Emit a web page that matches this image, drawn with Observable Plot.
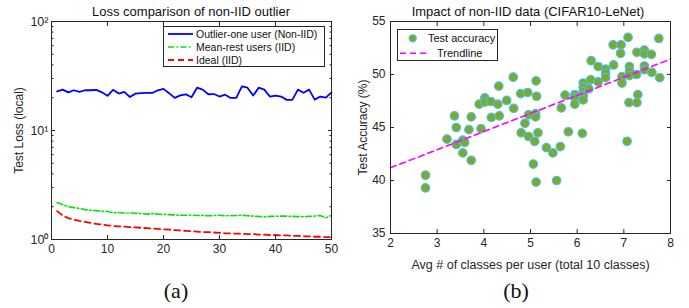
<!DOCTYPE html>
<html><head><meta charset="utf-8">
<script src="https://cdn.jsdelivr.net/npm/d3@7"></script>
<script src="https://cdn.jsdelivr.net/npm/@observablehq/plot@0.6"></script>
<style>
body{margin:0;background:#fff;}
#wrap{position:relative;width:689px;height:308px;overflow:hidden;font-family:"Liberation Sans",Arial,sans-serif;color:#262626;}
.abs{position:absolute;white-space:nowrap;line-height:1;}
.title{font-size:13px;color:#111;transform:translate(-50%,-50%);}
.cap{font-family:"Liberation Serif","Times New Roman",serif;font-size:22px;color:#111;transform:translate(-50%,-50%);}
.chart{position:absolute;top:0;}
</style></head>
<body><div id="wrap"></div>
<script>
// ---------- Data: left chart (a) ----------
const epochs = [1,2,3,4,5,6,7,8,9,10,11,12,13,14,15,16,17,18,19,20,21,22,23,24,25,26,27,28,29,30,31,32,33,34,35,36,37,38,39,40,41,42,43,44,45,46,47,48,49,50];
const outlierLoss = [22.9,23.7,22.4,23.4,22.6,23.4,23.4,23.6,22.4,20.8,23.6,21.8,22.6,20.3,21.8,22.0,22.1,22.1,23.4,24.1,22.0,19.9,21.0,21.5,20.2,24.7,23.7,21.5,21.6,20.5,21.3,19.9,19.9,25.4,24.7,20.9,24.7,23.7,20.5,20.9,20.5,19.1,19.1,23.7,22.2,23.7,19.2,20.5,20.0,22.4];
const meanRestLoss = [2.18,2.08,2.00,1.96,1.93,1.88,1.85,1.84,1.82,1.81,1.76,1.77,1.75,1.75,1.74,1.73,1.71,1.73,1.71,1.70,1.69,1.68,1.67,1.67,1.67,1.66,1.66,1.65,1.66,1.67,1.65,1.65,1.66,1.67,1.65,1.64,1.63,1.61,1.63,1.63,1.64,1.64,1.63,1.62,1.62,1.63,1.64,1.66,1.58,1.67];
const idealLoss = [1.82,1.66,1.57,1.52,1.48,1.45,1.42,1.39,1.37,1.35,1.33,1.32,1.31,1.30,1.29,1.28,1.27,1.26,1.25,1.24,1.23,1.22,1.21,1.20,1.19,1.18,1.17,1.17,1.16,1.15,1.14,1.14,1.13,1.13,1.12,1.12,1.11,1.11,1.10,1.10,1.09,1.09,1.08,1.08,1.07,1.07,1.06,1.06,1.05,1.05];
const leftSeries = ["Outlier-one user (Non-IID)", "Mean-rest users (IID)", "Ideal (IID)"];
const leftXTicks = [0,10,20,30,40,50];
const leftYTicks = [1,10,100];
const leftYMinor = [2,3,4,5,6,7,8,9,20,30,40,50,60,70,80,90];

// ---------- Data: right chart (b) ----------
const avgClasses = [2.75,2.75,3.21,3.37,3.41,3.41,3.55,3.59,3.55,3.68,3.73,3.73,3.94,3.90,4.02,4.02,4.15,4.16,4.30,4.32,4.33,4.49,4.63,4.64,4.79,4.80,4.88,4.94,4.96,4.96,5.09,5.11,5.11,5.12,5.13,5.16,5.06,5.12,5.34,5.48,5.56,5.64,5.66,5.74,5.81,5.95,5.95,5.95,6.11,6.13,6.13,6.13,6.13,6.13,6.25,6.29,6.30,6.45,6.45,6.61,6.61,6.61,6.77,6.78,6.94,6.93,6.96,6.96,7.07,7.09,7.11,7.12,7.12,7.12,7.27,7.28,7.28,7.30,7.44,7.44,7.44,7.44,7.59,7.60,7.75,7.77];
const testAccuracy = [40.5,39.3,43.9,46.1,45.0,43.4,43.8,43.6,42.6,44.8,46.0,41.9,44.9,47.2,47.8,47.4,47.45,45.95,47.2,48.9,46.1,47.55,49.75,46.8,48.2,44.5,45.4,48.3,44.15,46.2,43.7,46.3,46.0,49.4,47.95,44.5,41.55,39.85,43.1,42.6,40.0,43.2,46.85,48.05,44.6,48.1,47.8,47.2,44.45,49.2,48.8,48.4,48.0,47.6,48.65,49.5,51.3,49.3,50.75,50.5,50.1,49.7,52.8,50.9,52.8,52.0,49.8,49.2,43.7,53.5,47.35,50.75,50.3,49.9,50.0,52.1,47.35,48.1,52.3,51.95,50.8,50.45,51.9,50.2,53.4,49.7];
const trendX = [2, 8];
const trendY = [41.2, 51.45];
const rightSeries = ["Test accuracy", "Trendline"];
const rightXTicks = [2,3,4,5,6,7,8];
const rightYTicks = [35,40,45,50,55];

// ---------- Styles ----------
const FONT = "Liberation Sans, Arial, sans-serif";
const AX = "#262626";
const lineStyles = [
  {stroke: "#0000ff", strokeWidth: 1.8, dash: null},
  {stroke: "#00e600", strokeWidth: 1.6, dash: "6,2.5,1.5,2.5"},
  {stroke: "#ff0000", strokeWidth: 1.8, dash: "6,4"}
];
const sup = {"0":"\u2070","1":"\u00b9","2":"\u00b2"};

const wrap = document.getElementById("wrap");

const lossRows = [outlierLoss, meanRestLoss, idealLoss].map(arr => epochs.map((e, i) => ({epoch: e, loss: arr[i]})));

const left = Plot.plot({
  width: 345, height: 308,
  marginLeft: 51, marginRight: 14, marginTop: 21, marginBottom: 69,
  style: {fontFamily: FONT, fontSize: "12px", color: AX, background: "transparent", overflow: "visible"},
  x: {domain: [0, 50]},
  y: {type: "log", domain: [1, 100]},
  marks: [
    ...lossRows.map((rows, k) => Plot.line(rows, {x: "epoch", y: "loss", stroke: lineStyles[k].stroke, strokeWidth: lineStyles[k].strokeWidth, strokeDasharray: lineStyles[k].dash})).reverse(),
    Plot.frame({stroke: AX}),
    Plot.axisX({ticks: leftXTicks, tickSize: -4, tickPadding: 9, label: null, stroke: AX, fontSize: 12}),
    Plot.axisX({anchor: "top", ticks: leftXTicks, tickSize: -4, tickFormat: () => "", label: null, stroke: AX}),
    Plot.axisY({ticks: leftYTicks, tickSize: -4, tickPadding: 7, tickFormat: d => "10" + sup[String(Math.round(Math.log10(d)))], label: null, stroke: AX, fontSize: 12.5}),
    Plot.axisY({ticks: [], tickSize: 0, label: "Test Loss (local)", labelAnchor: "center", labelOffset: 37, labelArrow: "none", fontSize: 12}),
    Plot.axisY({anchor: "right", ticks: leftYTicks, tickSize: -4, tickFormat: () => "", label: null, stroke: AX}),
    Plot.axisY({ticks: leftYMinor, tickSize: -2.5, tickFormat: () => "", label: null, stroke: AX}),
    Plot.axisY({anchor: "right", ticks: leftYMinor, tickSize: -2.5, tickFormat: () => "", label: null, stroke: AX})
  ]
});

const dotRows = avgClasses.map((x, i) => ({x, acc: testAccuracy[i]}));
const trendRows = trendX.map((x, i) => ({x, y: trendY[i]}));

const right = Plot.plot({
  width: 344, height: 308,
  marginLeft: 45, marginRight: 19, marginTop: 21, marginBottom: 75,
  style: {fontFamily: FONT, fontSize: "12px", color: AX, background: "transparent", overflow: "visible"},
  x: {domain: [2, 8]},
  y: {domain: [35, 55]},
  marks: [
    Plot.dot(dotRows, {x: "x", y: "acc", r: 4.3, fill: "#77ac30", stroke: "#4dbeee", strokeWidth: 1.1}),
    Plot.line(trendRows, {x: "x", y: "y", stroke: "#ff00ff", strokeWidth: 1.6, strokeDasharray: "6,4"}),
    Plot.frame({stroke: AX}),
    Plot.axisX({ticks: rightXTicks, tickSize: -4, tickPadding: 9, tickFormat: d3.format("d"), label: null, stroke: AX, fontSize: 12}),
    Plot.axisX({ticks: [], tickSize: 0, label: "Avg # of classes per user (total 10 classes)", labelAnchor: "center", labelOffset: 35, labelArrow: "none", fontSize: 12.5}),
    Plot.axisX({anchor: "top", ticks: rightXTicks, tickSize: -4, tickFormat: () => "", label: null, stroke: AX}),
    Plot.axisY({ticks: rightYTicks, tickSize: -4, tickPadding: 9, label: null, stroke: AX, fontSize: 12}),
    Plot.axisY({ticks: [], tickSize: 0, label: "Test Accuracy (%)", labelAnchor: "center", labelOffset: 32, labelArrow: "none", fontSize: 12}),
    Plot.axisY({anchor: "right", ticks: rightYTicks, tickSize: -4, tickFormat: () => "", label: null, stroke: AX})
  ]
});

function place(el, x) { const d = document.createElement("div"); d.className = "chart"; d.style.left = x + "px"; d.appendChild(el); wrap.appendChild(d); }
place(left, 0);
place(right, 345);

function addText(cls, txt, x, y) { const d = document.createElement("div"); d.className = "abs " + cls; d.textContent = txt; d.style.left = x + "px"; d.style.top = y + "px"; wrap.appendChild(d); }
addText("title", "Loss comparison of non-IID outlier", 191, 11);
addText("title", "Impact of non-IID data (CIFAR10-LeNet)", 528, 11);
addText("cap", "(a)", 176, 291);
addText("cap", "(b)", 516, 291);

// ---------- Legends ----------
function legend(x, y, w, h, items) {
  const svg = d3.create("svg").attr("width", w).attr("height", h)
    .style("position", "absolute").style("left", x + "px").style("top", y + "px").style("font-family", FONT);
  svg.append("rect").attr("x", 0.5).attr("y", 0.5).attr("width", w - 1).attr("height", h - 1).attr("fill", "#fff").attr("stroke", AX).attr("stroke-width", 1);
  items.forEach(it => it.draw(svg));
  wrap.appendChild(svg.node());
}
legend(163, 26, 162, 41, leftSeries.map((name, k) => ({draw: svg => {
  const cy = 8 + k * 13;
  svg.append("line").attr("x1", 5).attr("x2", 30).attr("y1", cy).attr("y2", cy)
    .attr("stroke", lineStyles[k].stroke).attr("stroke-width", lineStyles[k].strokeWidth).attr("stroke-dasharray", lineStyles[k].dash);
  svg.append("text").attr("x", 33).attr("y", cy).attr("dy", "0.35em").attr("font-size", 10.5).attr("fill", "#111").text(name);
}})));
legend(397, 29, 101, 32, [
  {draw: svg => {
    svg.append("circle").attr("cx", 15.7).attr("cy", 9.3).attr("r", 3.6).attr("fill", "#77ac30").attr("stroke", "#4dbeee").attr("stroke-width", 1.1);
    svg.append("text").attr("x", 31).attr("y", 9.3).attr("dy", "0.35em").attr("font-size", 11).attr("fill", "#111").text(rightSeries[0]);
  }},
  {draw: svg => {
    svg.append("line").attr("x1", 3).attr("x2", 29).attr("y1", 24.3).attr("y2", 24.3).attr("stroke", "#ff00ff").attr("stroke-width", 1.6).attr("stroke-dasharray", "6,4");
    svg.append("text").attr("x", 40).attr("y", 24.3).attr("dy", "0.35em").attr("font-size", 11).attr("fill", "#111").text(rightSeries[1]);
  }}
]);
</script>
</body></html>
